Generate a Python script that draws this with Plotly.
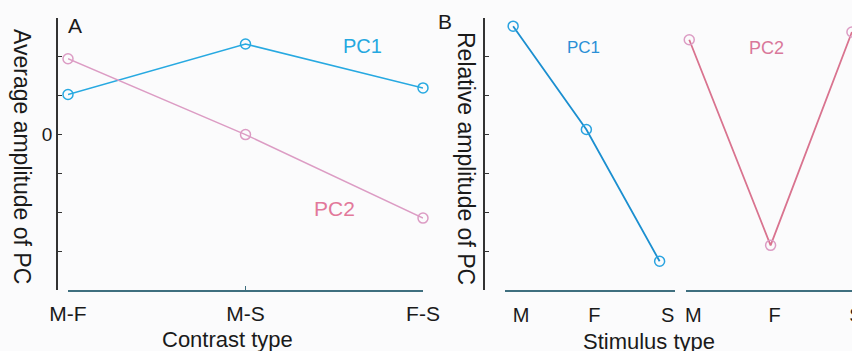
import plotly.graph_objects as go

# ---- data ----
contrast_types = ["M-F", "M-S", "F-S"]
avg_pc1 = [1.03, 2.33, 1.2]
avg_pc2 = [1.95, 0.0, -2.15]

stimulus_types = ["M", "F", "S"]
rel_pc1 = [2.79, 0.13, -3.26]
rel_pc2 = [2.44, -2.85, 2.64]

W, H = 852, 351
FONT = "Liberation Sans, Arial, Helvetica, sans-serif"

def px(x):
    return x / W

def py(y):
    return 1 - y / H

c_a1 = "#27a9e1"
c_a2 = "#dc9cc4"
c_b1 = "#1b8fd0"
c_b2 = "#d9738f"
ax_dark = "#333333"
ax_teal = "#3f6f7f"

fig = go.Figure()

fig.add_trace(go.Scatter(x=contrast_types, y=avg_pc1, xaxis="x", yaxis="y",
                         mode="lines+markers", cliponaxis=False,
                         line=dict(color=c_a1, width=1.5),
                         marker=dict(symbol="circle-open", size=10, color=c_a1, line=dict(width=1.5))))
fig.add_trace(go.Scatter(x=contrast_types, y=avg_pc2, xaxis="x", yaxis="y",
                         mode="lines+markers", cliponaxis=False,
                         line=dict(color=c_a2, width=1.5),
                         marker=dict(symbol="circle-open", size=10, color=c_a2, line=dict(width=1.5))))
fig.add_trace(go.Scatter(x=stimulus_types, y=rel_pc1, xaxis="x2", yaxis="y2",
                         mode="lines+markers", cliponaxis=False,
                         line=dict(color=c_b1, width=1.8),
                         marker=dict(symbol="circle-open", size=10, color="#2aa3e0", line=dict(width=1.5))))
fig.add_trace(go.Scatter(x=stimulus_types, y=rel_pc2, xaxis="x3", yaxis="y2",
                         mode="lines+markers", cliponaxis=False,
                         line=dict(color=c_b2, width=1.8),
                         marker=dict(symbol="circle-open", size=10, color="#dc9cc4", line=dict(width=1.5))))

ydom = [py(290), py(18)]
yrange = [-4, 3]
ticks_a = [-4, -3, -2, -1, 0, 1, 2, 3]
ticks_b = [-4, -3, -2, -1, 0, 1, 2]

common = dict(showgrid=False, zeroline=False, automargin=False)

fig.update_layout(
    template="none",
    width=W, height=H,
    margin=dict(l=0, r=0, t=0, b=0, pad=0),
    paper_bgcolor="#fbfbfc",
    plot_bgcolor="rgba(0,0,0,0)",
    showlegend=False,
    font=dict(family=FONT, color="#1a1a1a"),
    xaxis=dict(domain=[px(68), px(423)], anchor="y", type="category",
               categoryorder="array", categoryarray=contrast_types,
               range=[0, 2], showline=True, linecolor=ax_teal, linewidth=1.5,
               ticks="inside", ticklen=4, tickcolor=ax_teal, tickwidth=1.2,
               tickfont=dict(size=21, color="#1a1a1a"), ticklabelstandoff=4, **common),
    yaxis=dict(domain=ydom, anchor="free", position=px(57), range=yrange,
               showline=True, linecolor=ax_dark, linewidth=1.5,
               ticks="inside", ticklen=4, tickcolor=ax_dark, tickwidth=1.2,
               tickvals=ticks_a, ticktext=["0" if v == 0 else "" for v in ticks_a],
               tickfont=dict(size=19, color="#1a1a1a"), **common),
    xaxis2=dict(domain=[px(505), px(675)], anchor="y2", type="category",
                categoryorder="array", categoryarray=stimulus_types,
                range=[-0.111, 2.21], showline=True, linecolor=ax_teal, linewidth=1.5,
                ticks="", tickfont=dict(size=20, color="#1a1a1a"), ticklabelstandoff=6,
                ticklabelshift=8, **common),
    yaxis2=dict(domain=ydom, anchor="free", position=px(484), range=yrange,
                showline=True, linecolor=ax_dark, linewidth=1.5,
                ticks="inside", ticklen=4, tickcolor=ax_dark, tickwidth=1.2,
                tickvals=ticks_b, showticklabels=False, **common),
    xaxis3=dict(domain=[px(686), 1.0], anchor="y2", type="category",
                categoryorder="array", categoryarray=stimulus_types,
                range=[-0.04, 2.001], showline=True, linecolor=ax_teal, linewidth=1.5,
                ticks="", tickfont=dict(size=20, color="#1a1a1a"), ticklabelstandoff=6,
                ticklabelshift=4, **common),
)

def ann(text, x, y, size, color="#1a1a1a", angle=0):
    fig.add_annotation(text=text, x=px(x), y=py(y), xref="paper", yref="paper",
                       xanchor="center", yanchor="middle", showarrow=False,
                       textangle=angle, font=dict(size=size, color=color, family=FONT))

ann("A", 75, 25, 21)
ann("B", 445, 22, 21)
ann("PC1", 362, 46, 20, "#25a8e0")
ann("PC2", 334, 208, 21, "#e2789a")
ann("PC1", 583, 48, 17, "#2a8fd6")
ann("PC2", 766, 48, 18, "#d9789a")
ann("Average amplitude of PC", 22, 156, 23, angle=90)
ann("Relative amplitude of PC", 466, 158, 23, angle=90)
ann("Contrast type", 227, 339, 22)
ann("Stimulus type", 649, 341, 22)

fig.write_html("out.html", config={"displayModeBar": False},
               post_script="document.body.style.margin='0';document.body.style.overflow='hidden';")
